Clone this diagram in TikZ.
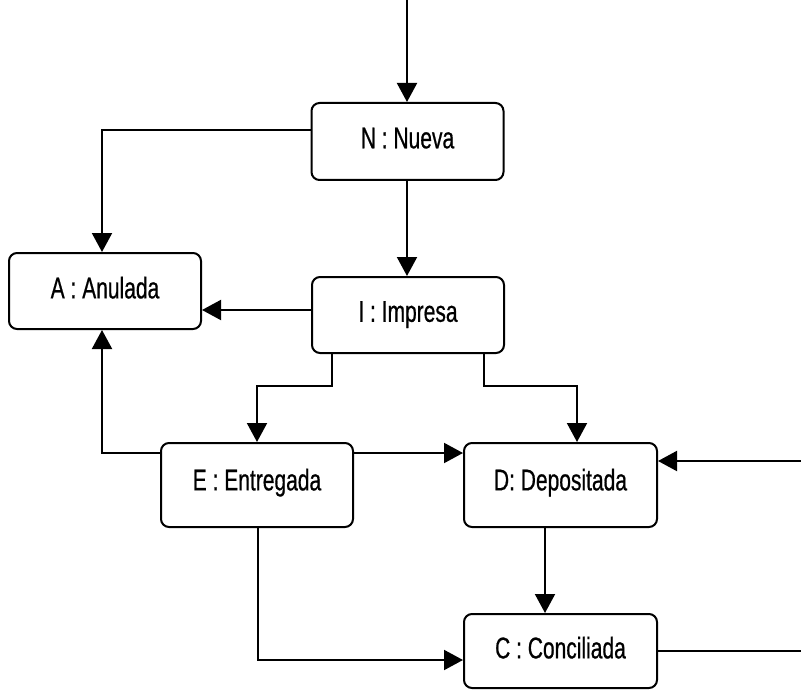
\documentclass[tikz,border=0pt]{standalone}
\usepackage{fontspec}
\setmainfont{Liberation Sans}[FakeStretch=0.7,FakeBold=0.6]
\usetikzlibrary{arrows.meta}
\begin{document}
\begin{tikzpicture}[x=1pt,y=-1pt,
  statebox/.style={draw,line width=2pt,rounded corners=8pt,minimum width=192pt,inner sep=0pt,
    font=\fontsize{30}{32}\selectfont},
  conn/.style={line width=2pt},
  arr/.style={conn,-{Triangle[length=19pt,width=20pt]}}]
\useasboundingbox (0,0) rectangle (801,690);
\node[statebox,minimum height=77pt] (N) at (407.5,141.5) {\raisebox{7pt}{N : Nueva}};
\node[statebox,minimum height=76pt] (A) at (105,291) {\raisebox{7pt}{A : Anulada}};
\node[statebox,minimum height=76pt] (I) at (408,315) {\raisebox{7pt}{I : Impresa}};
\node[statebox,minimum height=84pt] (E) at (257,485) {\raisebox{11pt}{E : Entregada}};
\node[statebox,minimum height=84pt,minimum width=193pt] (D) at (560.5,485) {\raisebox{11pt}{D: Depositada}};
\node[statebox,minimum height=74pt,minimum width=193pt] (C) at (560.5,651) {\raisebox{7pt}{C : Conciliada}};
\coordinate (top) at (407,0);
\coordinate (ext1) at (801,461);
\coordinate (ext2) at (801,651);
\draw[arr] (top) -- (N.north -| top);
\draw[arr] (N.west |- 0,130) -| (A.north -| 102,0);
\draw[arr] (N.south -| top) -- (I.north -| top);
\draw[arr] (I.west |- 0,310) -- (A.east |- 0,310);
\draw[arr] (I.south -| 332,0) -- (332,386) -| (E.north);
\draw[arr] (I.south -| 484,0) -- (484,386) -| (D.north -| 577,0);
\draw[arr] (E.west |- 0,453) -| (A.south -| 102,0);
\draw[arr] (E.east |- 0,453) -- (D.west |- 0,453);
\draw[arr] (ext1) -- (D.east |- ext1);
\draw[arr] (D.south -| 545,0) -- (C.north -| 545,0);
\draw[arr] (E.south -| 258,0) -- (258,660) -- (C.west |- 0,660);
\draw[conn] (C.east) -- (ext2);
\end{tikzpicture}
\end{document}
